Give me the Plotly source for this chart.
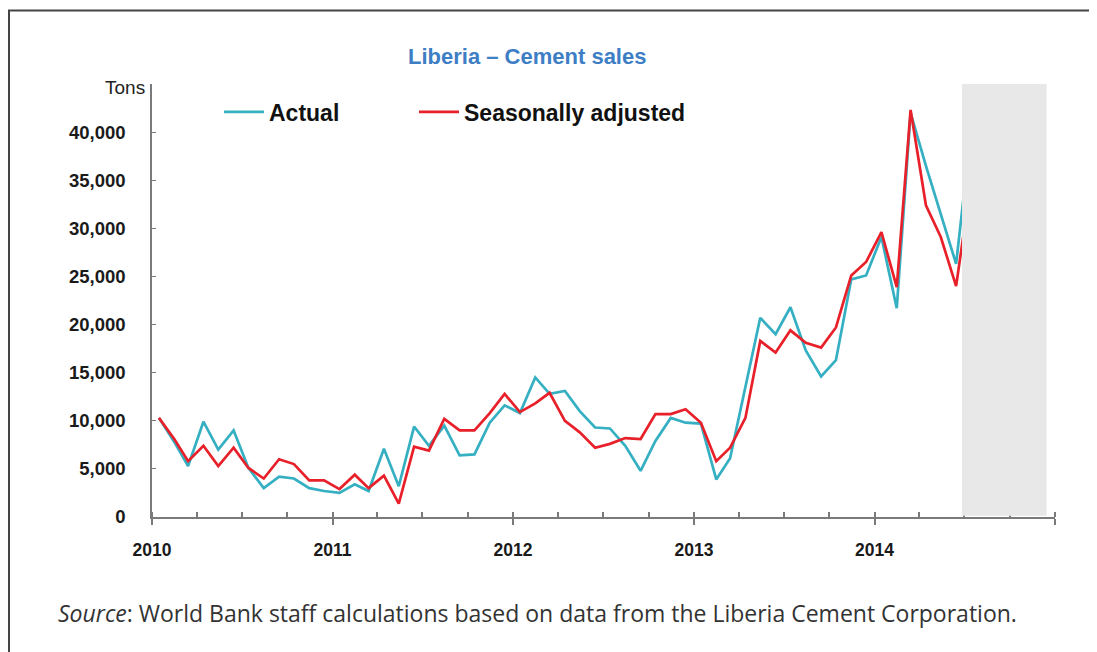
import plotly.graph_objects as go
import pandas as pd

months = pd.date_range("2010-01-01", periods=55, freq="MS") + pd.Timedelta(days=14)
actual = [10.3, 7.8, 5.3, 9.9, 7.0, 9.0, 5.1, 3.0, 4.2, 4.0, 3.0, 2.7, 2.5, 3.4, 2.7,
          7.1, 3.2, 9.4, 7.4, 9.5, 6.4, 6.5, 9.8, 11.6, 10.8, 14.5, 12.8, 13.1, 11.0, 9.3,
          9.2, 7.4, 4.8, 7.9, 10.3, 9.8, 9.7, 3.9, 6.1, 13.4, 20.7, 19.0, 21.8, 17.3, 14.6,
          16.3, 24.7, 25.1, 29.1, 21.7, 42.0, 36.5, 31.5, 26.3, 40.0]
seasonal = [10.3, 8.1, 5.8, 7.4, 5.3, 7.2, 5.1, 4.0, 6.0, 5.5, 3.8, 3.8, 2.9, 4.4, 3.0,
            4.3, 1.4, 7.3, 6.9, 10.2, 9.0, 9.0, 10.8, 12.8, 10.9, 11.8, 12.9, 10.0, 8.8, 7.2,
            7.6, 8.2, 8.1, 10.7, 10.7, 11.2, 9.8, 5.8, 7.2, 10.3, 18.3, 17.1, 19.4, 18.1, 17.6,
            19.7, 25.1, 26.5, 29.6, 23.9, 42.3, 32.4, 29.1, 24.0, 34.7]
actual = [v * 1000 for v in actual]
seasonal = [v * 1000 for v in seasonal]

year_ticks = ["2010-01-01", "2011-01-01", "2012-01-01", "2013-01-01", "2014-01-01", "2015-01-01"]
year_labels = ["2010", "2011", "2012", "2013", "2014", ""]
y_ticks = [0, 5000, 10000, 15000, 20000, 25000, 30000, 35000, 40000]

# page body has an 8px margin; work in window pixels and convert
W, H = 1089, 644
OFF = 8
PL, PR, PT, PB = 152 - OFF, 1055 - OFF, 84 - OFF, 517 - OFF
PW, PH = PR - PL, PB - PT


def px(xw):
    return (xw - OFF - PL) / PW


def py(yw):
    return (PB - (yw - OFF)) / PH


fig = go.Figure()
fig.add_trace(go.Scatter(x=months, y=actual, mode="lines", name="<b>Actual</b>",
                         line=dict(color="#35AFC2", width=2.7), legend="legend"))
fig.add_trace(go.Scatter(x=months, y=seasonal, mode="lines", name="<b>Seasonally adjusted</b>",
                         line=dict(color="#E8202A", width=2.7), legend="legend2"))

# shaded period
fig.add_shape(type="rect", xref="x", yref="paper", x0="2014-06-27", x1="2014-12-15",
              y0=0.003, y1=1, fillcolor="#E8E8E8", line=dict(width=0), layer="above")
# outer frame
fig.add_shape(type="rect", xref="paper", yref="paper",
              x0=px(9), x1=px(1120), y0=py(700), y1=py(10.5),
              line=dict(color="#444444", width=2), fillcolor="rgba(0,0,0,0)")

legend_font = dict(size=23, color="#111111", family="Liberation Sans, Arial")
fig.update_layout(
    width=W, height=H,
    margin=dict(l=PL, r=W - PR, t=PT, b=H - PB),
    paper_bgcolor="white", plot_bgcolor="white",
    font=dict(family="Liberation Sans, Arial", color="#111111"),
    showlegend=True,
    legend=dict(x=px(219), y=py(112), xanchor="left", yanchor="middle",
                font=legend_font, bgcolor="rgba(0,0,0,0)", itemwidth=40),
    legend2=dict(x=px(414), y=py(112), xanchor="left", yanchor="middle",
                 font=legend_font, bgcolor="rgba(0,0,0,0)", itemwidth=40),
    xaxis=dict(type="date", range=["2010-01-01", "2015-01-01"],
               tickvals=year_ticks, ticktext=year_labels,
               showgrid=False, showline=True, linecolor="#7a7a7a", linewidth=1.5,
               ticks="outside", ticklen=6, tickcolor="#7a7a7a", tickwidth=1.5,
               ticklabelstandoff=10,
               tickfont=dict(size=17.5, family="Liberation Sans, Arial", color="#1a1a1a", weight="bold"),
               minor=dict(ticks="inside", dtick="M3", ticklen=5, tickcolor="#7a7a7a",
                          tick0="2010-01-01"),
               zeroline=False),
    yaxis=dict(range=[0, 45000], tickvals=y_ticks, tickformat=",d",
               showgrid=False, showline=True, linecolor="#7a7a7a", linewidth=1.5,
               ticks="inside", ticklen=4, tickcolor="#7a7a7a",
               ticklabelstandoff=21,
               tickfont=dict(size=18.5, family="Liberation Sans, Arial", color="#1a1a1a", weight="bold"),
               zeroline=False),
)

fig.add_annotation(text="<b>Liberia \u2013 Cement sales</b>", xref="paper", yref="paper",
                   x=px(527), y=py(56), xanchor="center", yanchor="middle", showarrow=False,
                   font=dict(size=22, color="#3D7EC4", family="Liberation Sans, Arial"))
fig.add_annotation(text="Tons", xref="paper", yref="paper",
                   x=px(147), y=py(88), xanchor="right", yanchor="middle", showarrow=False,
                   font=dict(size=19, color="#222222", family="Liberation Sans, Arial"))
fig.add_annotation(text="<i>Source</i>: World Bank staff calculations based on data from the Liberia Cement Corporation.",
                   xref="paper", yref="paper", x=px(56), y=py(613),
                   xanchor="left", yanchor="middle", showarrow=False,
                   font=dict(size=23, color="#333333", family="Open Sans, Arial"))

fig.write_html("out.html")
